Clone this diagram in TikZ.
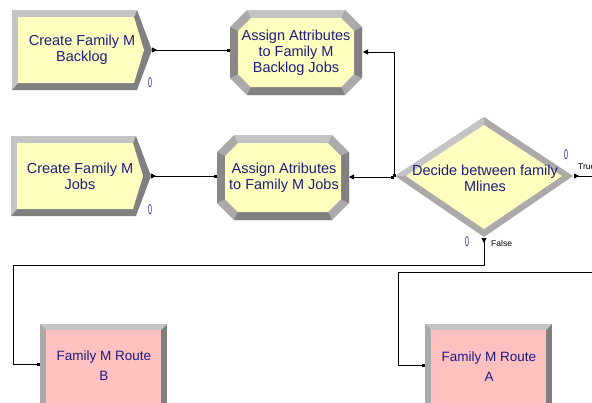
\documentclass[tikz,border=0pt]{standalone}
\usepackage{fontspec}
\setmainfont{Liberation Sans}
\usetikzlibrary{arrows.meta}
\definecolor{modyellow}{RGB}{255,255,192}
\definecolor{modpink}{RGB}{255,192,192}
\definecolor{bevlight}{RGB}{196,196,196}
\definecolor{bevmid}{RGB}{170,170,170}
\definecolor{bevdark}{RGB}{128,128,128}
\definecolor{modtextcol}{RGB}{28,28,130}
\definecolor{countcol}{RGB}{40,40,170}
\newcommand{\cnt}{\scalebox{0.5}[1]{0}}

\tikzset{
  modtext/.style={text=modtextcol, align=center, inner sep=0pt,
    font=\fontsize{14.5}{16}\selectfont},
  routetext/.style={modtext, font=\fontsize{13.5}{20}\selectfont},
  count/.style={text=countcol, inner sep=0pt, font=\fontsize{14}{14}\selectfont},
  branch/.style={inner sep=0pt, anchor=west, font=\fontsize{8.5}{10}\selectfont},
  conn/.style={draw=black, line width=0.8pt},
  exitin/.style={conn, {Triangle[length=5pt,width=5pt]}-{Square[length=3pt,width=3pt]}},
  exitout/.style={conn, {Triangle[reversed,length=5pt,width=5pt]}-{Square[length=3pt,width=3pt]}}
}

\begin{document}
\begin{tikzpicture}[x=1pt,y=-1pt]
    \clip (0,0) rectangle (592,402);

    % create modules
    \foreach \dx/\dy in {0/0,-1/126}{
      \begin{scope}[shift={(\dx,\dy)}]
        \fill[bevdark] (12,10) -- (137,10) -- (152,50) -- (137,90) -- (12,90) -- cycle;
        \fill[bevlight] (12,10) -- (137,10) -- (134,17) -- (18,17) -- (18,83) -- (12,90) -- cycle;
        \fill[modyellow] (18,17) -- (134,17) -- (144,50) -- (134,83) -- (18,83) -- cycle;
      \end{scope}
    }
    \node[modtext] (create_backlog) at (82,50) {Create Family M\\Backlog};
    \node[modtext] (create_jobs) at (80,176) {Create Family M\\Jobs};
    \coordinate (create_backlog_out) at (152,50);
    \coordinate (create_jobs_out) at (151,176);
    \node[count] (cnt_backlog) at (150,83) {\cnt};
    \node[count] (cnt_jobs) at (150,210) {\cnt};

    % assign modules
    \foreach \dx/\dy in {230/10,217/135}{
      \begin{scope}[shift={(\dx,\dy)}]
        \fill[bevmid] (17,0) -- (115,0) -- (132,17) -- (132,68) -- (115,85) -- (17,85) -- (0,68) -- (0,17) -- cycle;
        \fill[bevlight] (17,0) -- (115,0) -- (111,8) -- (21,8) -- cycle;
        \fill[bevdark] (132,17) -- (132,68) -- (124,64) -- (124,21) -- cycle;
        \fill[bevdark] (115,85) -- (17,85) -- (21,77) -- (111,77) -- cycle;
        \fill[bevdark!80!bevmid] (0,17) -- (0,68) -- (8,64) -- (8,21) -- cycle;
        \fill[modyellow] (21,8) -- (111,8) -- (124,21) -- (124,64) -- (111,77) -- (21,77) -- (8,64) -- (8,21) -- cycle;
      \end{scope}
    }
    \node[modtext] (assign_backlog) at (296,53) {Assign Attributes\\to Family M\\Backlog Jobs};
    \node[modtext] (assign_jobs) at (284,178) {Assign Atributes\\to Family M Jobs};
    \coordinate (assign_backlog_in) at (230,50);
    \coordinate (assign_backlog_out) at (363,52);
    \coordinate (assign_jobs_in) at (217,176);
    \coordinate (assign_jobs_out) at (349,177);

    % decide module
    \fill[bevmid] (395,176) -- (484,117) -- (573,176) -- (484,237) -- cycle;
    \fill[bevlight] (395,176) -- (484,117) -- (484,125) -- (406,176) -- cycle;
    \fill[modyellow] (406,176) -- (484,125) -- (562,176) -- (484,229) -- cycle;
    \node[modtext] (decide) at (485,178) {Decide between family\\Mlines};
    \coordinate (decide_in) at (394,177);
    \coordinate (decide_true) at (574,176);
    \coordinate (decide_false) at (484,238);
    \node[count] (cnt_true) at (566,155) {\cnt};
    \node[count] (cnt_false) at (467,242) {\cnt};
    \node[branch] (lbl_true) at (578,167) {True};
    \node[branch] (lbl_false) at (491,243) {False};

    % route modules
    \foreach \rx in {40,425}{
      \begin{scope}[shift={(\rx,324)}]
        \fill[bevdark] (0,0) rectangle (127,84);
        \fill[bevlight] (0,0) -- (127,0) -- (121,6) -- (6,6) -- cycle;
        \fill[bevmid] (0,0) -- (6,6) -- (6,84) -- (0,84) -- cycle;
        \fill[modpink] (6,6) rectangle (121,84);
      \end{scope}
    }
    \node[routetext] (route_b) at (104,366) {Family M Route\\B};
    \node[routetext] (route_a) at (489,367) {Family M Route\\A};
    \coordinate (route_b_in) at (40,364);
    \coordinate (route_a_in) at (425,365);

    % connections
    \draw[exitout] (create_backlog_out) -- (assign_backlog_in);
    \draw[exitout] (create_jobs_out) -- (assign_jobs_in);
    \draw[exitin] (assign_backlog_out) -| (decide_in);
    \draw[exitin] (assign_jobs_out) -- (decide_in);
    \draw[exitout] (decide_false) |- (13,265) |- (route_b_in);
    \draw[exitout] (decide_true) -- ++(30,0) |- (398,272) |- (route_a_in);
\end{tikzpicture}
\end{document}
